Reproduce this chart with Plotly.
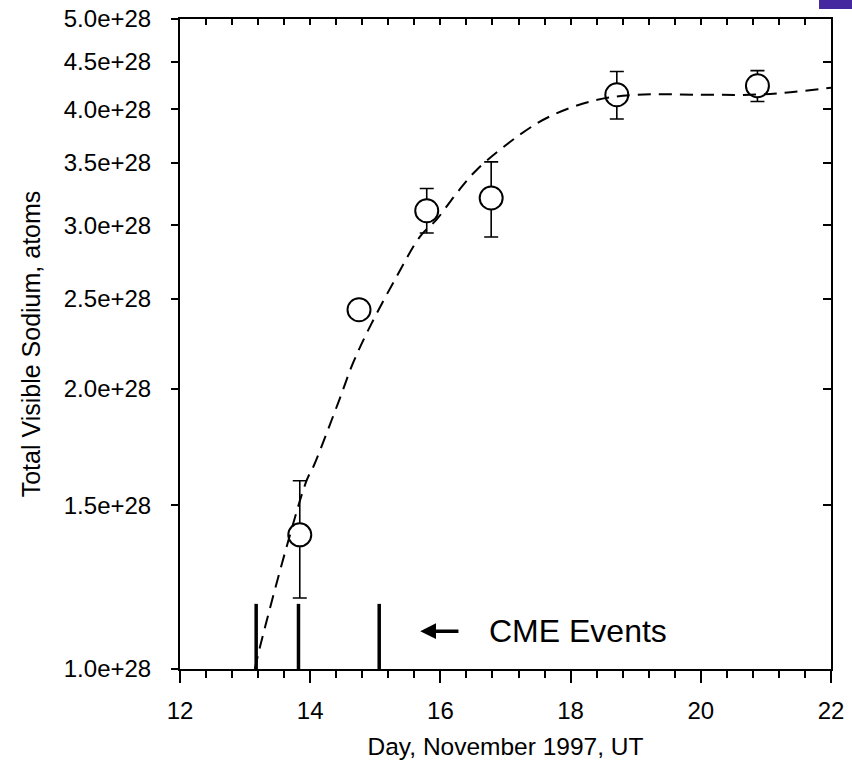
import math
import plotly.graph_objects as go

# Observations
obs_day = [13.84, 14.75, 15.79, 16.78, 18.71, 20.87]
obs_na = [1.394e28, 2.434e28, 3.11e28, 3.21e28, 4.145e28, 4.238e28]
err_plus = [0.20e28, 0.0, 0.176e28, 0.30e28, 0.245e28, 0.162e28]
err_minus = [0.202e28, 0.0, 0.167e28, 0.296e28, 0.242e28, 0.162e28]

# Dashed model curve
curve_day = [13.15, 13.23, 13.64, 13.95, 14.05, 14.43, 14.66, 14.92, 15.33, 15.69,
             15.94, 16.25, 16.56, 17.22, 17.68, 18.35, 19.02, 19.99, 20.76, 21.26, 22.0]
curve_na = [1.000e28, 1.057e28, 1.355e28, 1.598e28, 1.651e28, 1.933e28, 2.135e28, 2.336e28,
            2.644e28, 2.919e28, 3.042e28, 3.249e28, 3.443e28, 3.754e28, 3.928e28, 4.084e28,
            4.145e28, 4.145e28, 4.145e28, 4.163e28, 4.218e28]

# CME events
cme_day = [13.17, 13.82, 15.06]
cme_top = 1.175e28
y_base = 1.0e28

y_ticks = [1.0e28, 1.5e28, 2.0e28, 2.5e28, 3.0e28, 3.5e28, 4.0e28, 4.5e28, 5.0e28]
x_range = [12, 22]
y_range = [math.log10(1.0e28), math.log10(5.0e28)]

FONT = "Liberation Sans, Arial, sans-serif"

fig = go.Figure()

cx, cy = [], []
for d in cme_day:
    cx += [d, d, None]
    cy += [y_base, cme_top, None]
fig.add_trace(go.Scatter(x=cx, y=cy, mode="lines",
                         line=dict(color="black", width=3.5), hoverinfo="skip",
                         showlegend=False))

fig.add_trace(go.Scatter(x=curve_day, y=curve_na, mode="lines", xaxis="x2", yaxis="y2",
                         line=dict(color="black", width=2, dash="13px,8px", shape="spline"),
                         showlegend=False))

fig.add_trace(go.Scatter(
    x=obs_day, y=obs_na, mode="markers",
    marker=dict(symbol="circle", size=23, color="white", line=dict(color="black", width=2)),
    error_y=dict(type="data", array=err_plus, arrayminus=err_minus, symmetric=False,
                 color="black", thickness=1.6, width=7),
    showlegend=False))

# Arrow + label
arrow_y = 1.098e28
fig.add_annotation(x=15.69, y=math.log10(arrow_y), ax=16.30, ay=math.log10(arrow_y),
                   xref="x", yref="y", axref="x", ayref="y", text="",
                   showarrow=True, arrowhead=2, arrowsize=0.9, arrowwidth=3.5,
                   arrowcolor="black")
fig.add_annotation(x=16.71, y=math.log10(arrow_y), xref="x", yref="y", text="CME Events",
                   showarrow=False, xanchor="left", yanchor="middle",
                   font=dict(family=FONT, size=32, color="black"))

# purple corner mark
fig.add_shape(type="rect", xref="paper", yref="paper", x0=0.9816, x1=1.04, y0=1.0154, y1=1.05,
              fillcolor="#4527A0", line=dict(width=0))

axis_common = dict(showgrid=False, zeroline=False, linecolor="black", linewidth=2,
                   tickcolor="black", automargin=False,
                   tickfont=dict(family=FONT, size=24, color="black"))

fig.update_layout(
    width=852, height=762,
    margin=dict(l=180, r=21, t=19, b=93, autoexpand=False),
    paper_bgcolor="white", plot_bgcolor="white",
    font=dict(family=FONT, color="black"),
    xaxis=dict(range=x_range, tick0=12, dtick=2, ticks="outside", ticklen=12, tickwidth=2,
               ticklabelstandoff=7,
               minor=dict(dtick=0.4, ticks="outside", ticklen=7, tickwidth=1.5, tickcolor="black"),
               title=dict(text="Day, November 1997, UT", font=dict(family=FONT, size=24.5),
                          standoff=15),
               **axis_common),
    yaxis=dict(type="log", range=y_range, tickvals=y_ticks, tickformat=".1e",
               ticks="outside", ticklen=7, tickwidth=1.5, ticklabelstandoff=15,
               title=dict(text="Total Visible Sodium, atoms", font=dict(family=FONT, size=25),
                          standoff=16),
               **axis_common),
    xaxis2=dict(range=x_range, overlaying="x", side="top", anchor="y2", tick0=12, dtick=0.4,
                ticks="inside", ticklen=6, tickwidth=1.5, showticklabels=False,
                showgrid=False, zeroline=False, linecolor="black", linewidth=2,
                tickcolor="black", automargin=False),
    yaxis2=dict(type="log", range=y_range, overlaying="y", side="right", anchor="x2",
                tickvals=y_ticks, ticks="inside", ticklen=8, tickwidth=1.5,
                showticklabels=False, showgrid=False, zeroline=False,
                linecolor="black", linewidth=2, tickcolor="black", automargin=False),
)

fig.write_html("out.html", config={"displayModeBar": False},
               post_script="document.body.style.margin='0';document.body.style.padding='0';")
